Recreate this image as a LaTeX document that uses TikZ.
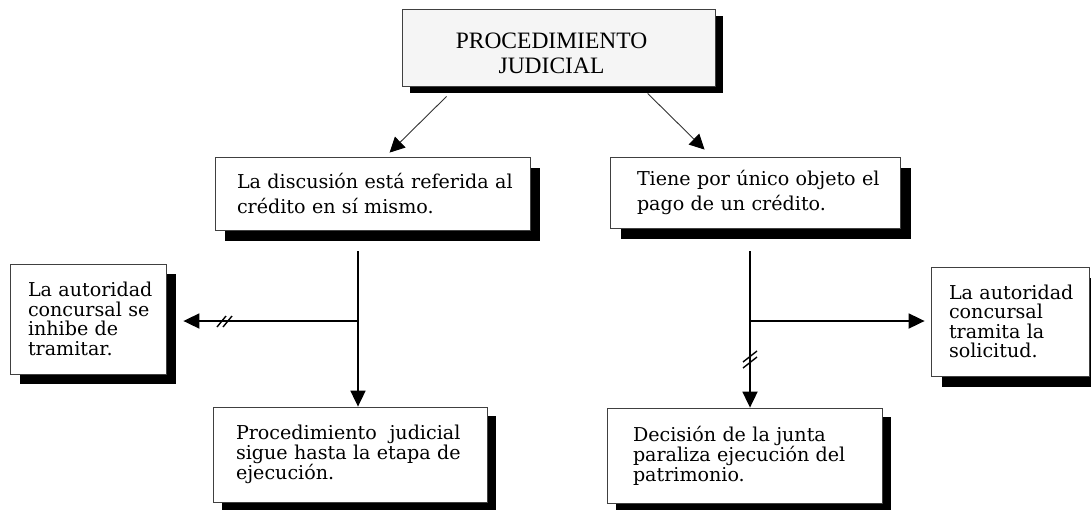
\documentclass[tikz,border=0pt]{standalone}
\usepackage{fontspec}
\setmainfont{DejaVu Serif}
\newfontfamily\timesf{Liberation Serif}
\usetikzlibrary{shadows,arrows.meta,calc}
\begin{document}
\begin{tikzpicture}[x=1pt,y=-1pt,
  box/.style={draw=black!75, line width=0.8pt, fill=white, align=left, inner ysep=0pt,
    font=\fontsize{19.1}{19.5}\selectfont},
  shad/.style 2 args={general shadow={fill=black, shadow xshift=#1pt, shadow yshift=-#2pt}},
  thinarr/.style={draw=black!80, line width=0.9pt, -{Triangle[length=15pt,width=15pt,color=black]}},
  thickarr/.style={line width=1.8pt, -{Triangle[length=16pt,width=15pt]}},
  slash/.style={line width=1.4pt}
]
\useasboundingbox (0,0) rectangle (1091,509);

% top box
\node[box, fill=black!4, shad={8}{7}, minimum width=313pt, minimum height=77pt, align=center,
  font=\timesf\fontsize{23.5}{25}\selectfont, inner xsep=0pt] (top) at (558.5,47.5)
  {\rule{0pt}{27pt}\hspace*{-14pt}PROCEDIMIENTO\\\hspace*{-14pt}JUDICIAL};

% middle boxes
\node[box, shad={10}{11}, font=\fontsize{19.1}{25}\selectfont, minimum width=315pt, minimum height=73pt,
  inner xsep=22pt, text width=271pt] (A) at (372.5,193.5)
  {\mbox{La discusión está referida al}\\\mbox{crédito en sí mismo.}};
\node[box, shad={11}{11}, font=\fontsize{19.1}{25}\selectfont, minimum width=290pt, minimum height=71pt,
  inner xsep=27pt, text width=236pt] (B) at (755,192.5)
  {\mbox{Tiene por único objeto el}\\\mbox{pago de un crédito.}};

% side boxes
\node[box, shad={10}{10}, minimum width=156pt, minimum height=110pt,
  inner xsep=18pt, text width=120pt] (C) at (88,319)
  {\mbox{La autoridad}\\\mbox{concursal se}\\\mbox{inhibe de}\\\mbox{tramitar.}};
\node[box, shad={11}{11}, minimum width=158pt, minimum height=109pt,
  inner xsep=18pt, text width=122pt] (D) at (1010,321.5)
  {\mbox{La autoridad}\\\mbox{concursal}\\\mbox{tramita la}\\\mbox{solicitud.}};

% bottom boxes
\node[box, shad={9}{9}, minimum width=274pt, minimum height=95pt,
  inner xsep=23pt, text width=228pt] (E) at (350,454.5)
  {\mbox{Procedimiento\ \ judicial}\\\mbox{sigue hasta la etapa de}\\\mbox{ejecución.}};
\node[box, shad={9}{9}, minimum width=275pt, minimum height=95pt,
  inner xsep=26pt, text width=223pt] (F) at (744.5,455.5)
  {\mbox{Decisión de la junta}\\\mbox{paraliza ejecución del}\\\mbox{patrimonio.}};

% arrows from the top box
\draw[thinarr] ([xshift=45pt,yshift=-10pt]top.south west) -- ([xshift=175pt,yshift=4pt]A.north west);
\draw[thinarr] ([xshift=246pt,yshift=-7pt]top.south west) -- ([xshift=95pt,yshift=7pt]B.north west);

% left branch
\coordinate (L0) at ([xshift=-14.5pt,yshift=-21pt]A.south);
\coordinate (L1) at (358,321);
\coordinate (cC) at ([xshift=17pt]C.east);
\draw[thickarr] (L0) -- (L0 |- E.north);
\draw[thickarr] (L1) -- (cC |- L1);
\coordinate (sL) at (225,321);
\draw[slash] ([shift={(-8,6)}]sL) -- ([shift={(1,-5)}]sL);
\draw[slash] ([shift={(-2,6)}]sL) -- ([shift={(7,-5)}]sL);

% right branch
\coordinate (R0) at ([xshift=-5pt,yshift=-23pt]B.south);
\coordinate (R1) at (750,321);
\coordinate (cD) at ([xshift=-6pt]D.west);
\draw[thickarr] (R0) -- (R0 |- F.north);
\draw[thickarr] (R1) -- (cD |- R1);
\coordinate (sR) at (750,362);
\draw[slash] ([shift={(-7,0)}]sR) -- ([shift={(7,-11)}]sR);
\draw[slash] ([shift={(-7,6)}]sR) -- ([shift={(7,-5)}]sR);
\end{tikzpicture}
\end{document}
